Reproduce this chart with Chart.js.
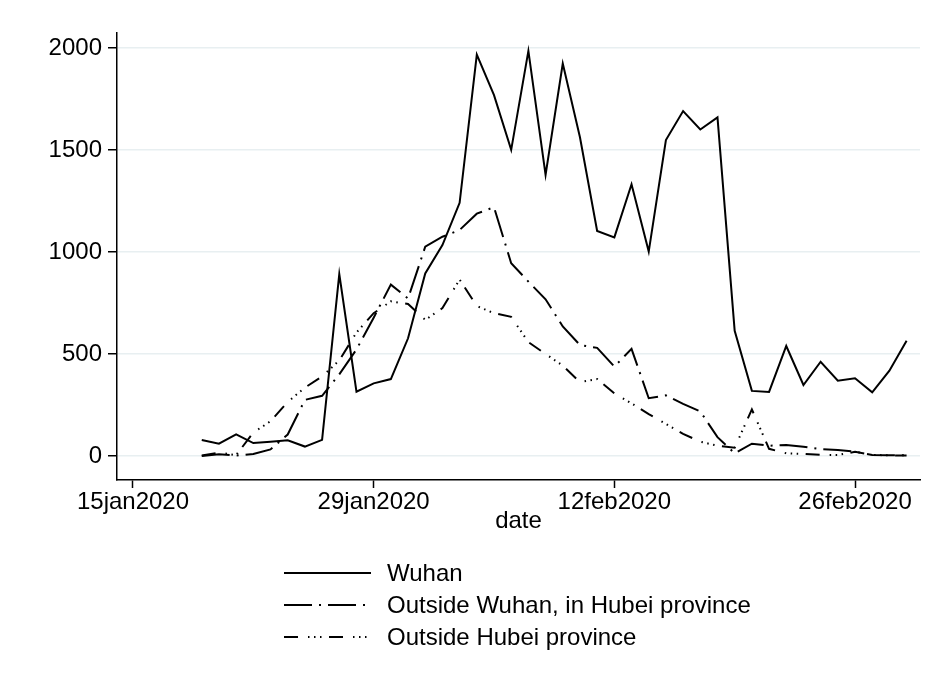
<!DOCTYPE html>
<html>
<head>
<meta charset="utf-8">
<script src="https://cdn.jsdelivr.net/npm/chart.js@4.4.1/dist/chart.umd.min.js"></script>
<style>
  html, body { margin: 0; padding: 0; background: #fff; }
  #chart { display: block; }
</style>
</head>
<body>
<canvas id="chart" width="934" height="684"></canvas>
<script>
/* ======================= DATA ======================= */
const dates = [
  '2020-01-19', '2020-01-20', '2020-01-21', '2020-01-22', '2020-01-23', '2020-01-24', '2020-01-25',
  '2020-01-26', '2020-01-27', '2020-01-28', '2020-01-29', '2020-01-30', '2020-01-31', '2020-02-01',
  '2020-02-02', '2020-02-03', '2020-02-04', '2020-02-05', '2020-02-06', '2020-02-07', '2020-02-08',
  '2020-02-09', '2020-02-10', '2020-02-11', '2020-02-12', '2020-02-13', '2020-02-14', '2020-02-15',
  '2020-02-16', '2020-02-17', '2020-02-18', '2020-02-19', '2020-02-20', '2020-02-21', '2020-02-22',
  '2020-02-23', '2020-02-24', '2020-02-25', '2020-02-26', '2020-02-27', '2020-02-28', '2020-02-29'
];

const wuhan = [78, 60, 106, 63, 70, 77, 46, 79, 892, 315, 356, 377, 577, 895, 1034, 1241, 1968, 1769, 1501, 1986, 1378,
  1924, 1563, 1103, 1072, 1332, 1002, 1549, 1691, 1601, 1660, 614, 319, 314, 539, 348, 462, 369, 381, 312, 418, 565];

const outsideWuhanHubei = [0, 8, 2, 10, 32, 105, 275, 295, 400, 522, 678, 840, 772, 1026, 1075, 1108, 1188, 1220, 945, 855, 768,
  635, 544, 530, 438, 525, 283, 297, 255, 218, 92, 13, 60, 50, 54, 45, 33, 29, 21, 5, 3, 4];

const outsideHubei = [2, 16, 4, 115, 170, 265, 335, 390, 468, 605, 700, 758, 745, 667, 725, 865, 735, 700, 682, 558, 500,
  443, 362, 377, 307, 258, 205, 157, 108, 70, 50, 40, 228, 35, 13, 10, 5, 5, 20, 5, 3, 2];

const seriesNames = ['Wuhan', 'Outside Wuhan, in Hubei province', 'Outside Hubei province'];

const xTickDates = ['2020-01-15', '2020-01-29', '2020-02-12', '2020-02-26'];
const xTickLabels = ['15jan2020', '29jan2020', '12feb2020', '26feb2020'];
const yTicks = [0, 500, 1000, 1500, 2000];

/* ======================= HELPERS ======================= */
const dayNum = s => Date.parse(s + 'T00:00:00Z') / 86400000;
const toPoints = vals => dates.map((d, i) => ({ x: dayNum(d), y: vals[i] }));

// plot region padding (Stata leaves a margin round the data)
const X_MIN = dayNum('2020-01-15') - 0.93;
const X_MAX = dayNum('2020-01-15') + 45.78;
const Y_MIN = -118;
const Y_MAX = 2074;

const FONT = '"Liberation Sans", Arial, Helvetica, sans-serif';
const FONT_SIZE = 24;
Chart.defaults.font.family = FONT;
Chart.defaults.color = '#000';

/* ======================= LEGEND ======================= */
const bottomLegend = {
  id: 'bottomLegend',
  afterDraw(chart) {
    const ctx = chart.ctx;
    chart.data.datasets.forEach((ds, i) => {
      const y = 573 + i * 32;
      ctx.save();
      ctx.strokeStyle = '#000';
      ctx.lineWidth = 2;
      ctx.setLineDash(ds.borderDash || []);
      ctx.beginPath();
      ctx.moveTo(284, y);
      ctx.lineTo(371, y);
      ctx.stroke();
      ctx.setLineDash([]);
      ctx.fillStyle = '#000';
      ctx.font = FONT_SIZE + 'px ' + FONT;
      ctx.textBaseline = 'middle';
      ctx.fillText(ds.label, 387, y + 1);
      ctx.restore();
    });
  }
};

/* ======================= CHART ======================= */
const lineStyle = { borderColor: '#000', borderWidth: 2, pointRadius: 0, tension: 0, fill: false };

new Chart(document.getElementById('chart'), {
  type: 'line',
  data: {
    datasets: [
      { ...lineStyle, label: seriesNames[0], data: toPoints(wuhan), borderDash: [] },
      { ...lineStyle, label: seriesNames[1], data: toPoints(outsideWuhanHubei), borderDash: [28, 7, 2, 7] },
      { ...lineStyle, label: seriesNames[2], data: toPoints(outsideHubei), borderDash: [14, 10, 1.5, 4.5, 1.5, 4.5, 1.5, 7.5] }
    ]
  },
  options: {
    responsive: false,
    animation: false,
    devicePixelRatio: 1,
    layout: { padding: { top: 33, right: 14, bottom: 148, left: 0 } },
    plugins: { legend: { display: false }, tooltip: { enabled: false } },
    scales: {
      x: {
        type: 'linear',
        min: X_MIN,
        max: X_MAX,
        afterBuildTicks: s => { s.ticks = xTickDates.map(d => ({ value: dayNum(d) })); },
        afterFit: s => { s.height = 56; },
        ticks: {
          callback: (v, i) => xTickLabels[i],
          color: '#000', font: { size: FONT_SIZE }, padding: 0, maxRotation: 0, autoSkip: false
        },
        grid: { drawOnChartArea: false, drawTicks: true, tickLength: 8, tickColor: '#000', tickWidth: 1.5 },
        border: { color: '#000', width: 1.5 },
        title: { display: true, text: 'date', color: '#000', font: { size: FONT_SIZE }, padding: { top: 0, bottom: 0 } }
      },
      y: {
        type: 'linear',
        min: Y_MIN,
        max: Y_MAX,
        afterBuildTicks: s => { s.ticks = yTicks.map(v => ({ value: v })); },
        afterFit: s => { s.width = 117; },
        ticks: { callback: v => String(v), color: '#000', font: { size: FONT_SIZE }, padding: 6 },
        grid: { color: '#e8eff1', lineWidth: 1.5, tickColor: '#000', tickLength: 9, tickWidth: 1.5 },
        border: { color: '#000', width: 1.5 }
      }
    }
  },
  plugins: [bottomLegend]
});
</script>
</body>
</html>
